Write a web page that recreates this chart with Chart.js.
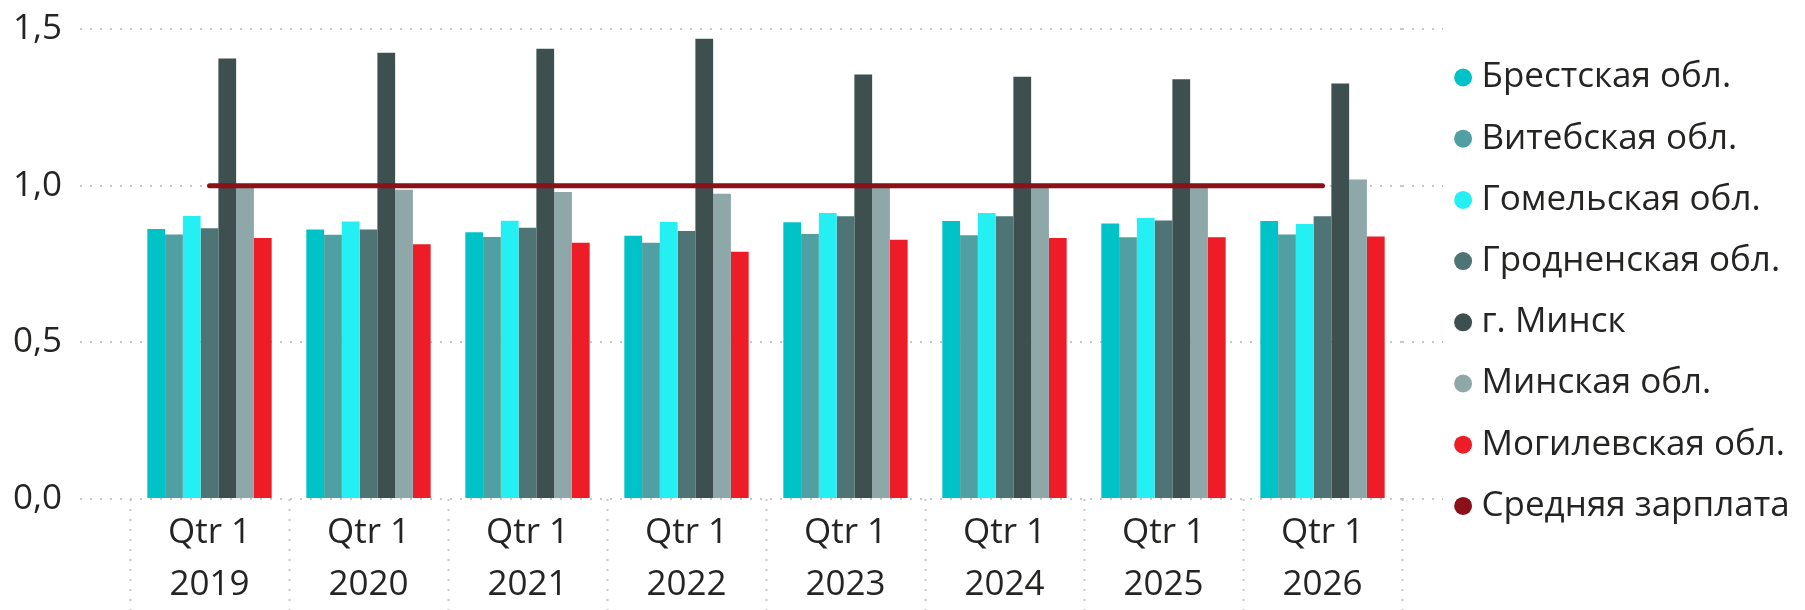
<!DOCTYPE html>
<html>
<head>
<meta charset="utf-8">
<script src="https://cdn.jsdelivr.net/npm/chart.js@4/dist/chart.umd.min.js"></script>
<style>
  html, body { margin: 0; padding: 0; background: #fff; }
  #wrap { width: 1805px; height: 610px; position: relative; }
</style>
</head>
<body>
<div id="wrap"><canvas id="chart"></canvas></div>
<script>
// categories
const quarters = ['Qtr 1', 'Qtr 1', 'Qtr 1', 'Qtr 1', 'Qtr 1', 'Qtr 1', 'Qtr 1', 'Qtr 1'];
const years = ['2019', '2020', '2021', '2022', '2023', '2024', '2025', '2026'];

// series (ratio to average salary)
const brest    = [0.862, 0.860, 0.851, 0.840, 0.883, 0.887, 0.879, 0.887];
const vitebsk  = [0.844, 0.843, 0.836, 0.818, 0.846, 0.842, 0.835, 0.844];
const gomel    = [0.903, 0.886, 0.888, 0.884, 0.913, 0.913, 0.897, 0.878];
const grodno   = [0.864, 0.860, 0.866, 0.855, 0.902, 0.902, 0.889, 0.902];
const minsk    = [1.406, 1.424, 1.437, 1.469, 1.355, 1.348, 1.340, 1.326];
const minskReg = [0.993, 0.987, 0.980, 0.974, 0.996, 0.997, 1.003, 1.020];
const mogilev  = [0.833, 0.813, 0.818, 0.789, 0.827, 0.833, 0.835, 0.838];
const avgSalary = [1, 1, 1, 1, 1, 1, 1, 1];

const seriesNames = ['Брестская обл.', 'Витебская обл.', 'Гомельская обл.', 'Гродненская обл.',
    'г. Минск', 'Минская обл.', 'Могилевская обл.', 'Средняя зарплата'];

// y axis tick labels
const yTickLabels = ['0,0', '0,5', '1,0', '1,5'];

const FONT = "'Segoe UI', 'Open Sans', sans-serif";
const TEXT = '#252423';
const GRID = '#c8c8c8';
const DOTS = [2, 8];

// legend sizing
const LEG_FS = 35, LEG_PAD = 26.2, LEG_BOX = 1.8, LEG_GAP = 34;
const PLOT_RIGHT = 1402;

const measure = document.createElement('canvas').getContext('2d');
measure.font = LEG_FS + 'px ' + FONT;
const maxTextW = Math.max(...seriesNames.map(n => measure.measureText(n).width));
const legendWidth = LEG_PAD + LEG_BOX + LEG_FS / 2 + maxTextW + 10;
const padRight = 1805 - PLOT_RIGHT - legendWidth;

const labels = years.map((y, i) => [quarters[i], y]);

function bar(i, data, color) {
    return {
        type: 'bar',
        label: seriesNames[i],
        data: data,
        backgroundColor: color,
        borderWidth: 0,
        order: 1
    };
}

// grid dots continue right of the plot, legend moved off the plot edge
const gridExtras = {
    id: 'gridExtras',
    afterLayout(chart) {
        chart.legend.left += LEG_GAP;
        chart.legend.right += LEG_GAP;
    },
    beforeDatasetsDraw(chart) {
        const { ctx, chartArea, scales } = chart;
        ctx.save();
        ctx.strokeStyle = GRID;
        ctx.lineWidth = 2;
        ctx.setLineDash(DOTS);
        scales.y.ticks.forEach(t => {
            const y = Math.round(scales.y.getPixelForValue(t.value));
            ctx.beginPath();
            ctx.moveTo(chartArea.right, y);
            ctx.lineTo(chartArea.right + 41, y);
            ctx.stroke();
        });
        ctx.restore();
    }
};

const ctx = document.getElementById('chart').getContext('2d');
new Chart(ctx, {
    data: {
        labels: labels,
        datasets: [
            bar(0, brest, '#00C3C7'),
            bar(1, vitebsk, '#509FA3'),
            bar(2, gomel, '#24F0F4'),
            bar(3, grodno, '#4E7475'),
            bar(4, minsk, '#3E4F4F'),
            bar(5, minskReg, '#8EA8A9'),
            bar(6, mogilev, '#ED1C26'),
            {
                type: 'line',
                label: seriesNames[7],
                data: avgSalary,
                borderColor: '#8C1018',
                backgroundColor: '#8C1018',
                borderWidth: 5,
                borderCapStyle: 'round',
                pointRadius: 0,
                tension: 0,
                order: 0
            }
        ]
    },
    plugins: [gridExtras],
    options: {
        responsive: true,
        maintainAspectRatio: false,
        animation: false,
        layout: { padding: { top: 29, right: padRight, left: 0, bottom: 0 } },
        datasets: {
            bar: { categoryPercentage: 0.782, barPercentage: 1.0 }
        },
        scales: {
            x: {
                offset: true,
                afterFit: (s) => { s.height = 111; },
                grid: {
                    offset: true,
                    drawOnChartArea: false,
                    drawTicks: true,
                    tickLength: 111,
                    tickColor: GRID,
                    tickWidth: 2,
                    tickBorderDash: DOTS
                },
                border: { display: false },
                ticks: {
                    color: TEXT,
                    font: { family: FONT, size: 35, lineHeight: 1.477 },
                    padding: -103,
                    maxRotation: 0,
                    autoSkip: false
                }
            },
            y: {
                min: 0,
                max: 1.5,
                afterFit: (s) => { s.width = 130; s.paddingTop = 0; s.paddingBottom = 0; },
                grid: {
                    color: GRID,
                    lineWidth: 2,
                    drawTicks: true,
                    tickLength: 50,
                    tickColor: GRID,
                    tickWidth: 2,
                    tickBorderDash: DOTS
                },
                border: { display: false, dash: DOTS },
                ticks: {
                    stepSize: 0.5,
                    padding: 18,
                    color: TEXT,
                    font: { family: FONT, size: 35 },
                    callback: (v, i) => yTickLabels[i]
                }
            }
        },
        plugins: {
            tooltip: { enabled: false },
            legend: {
                position: 'right',
                align: 'start',
                title: { display: true, text: ' ', font: { size: 4 }, padding: 0 },
                labels: {
                    usePointStyle: true,
                    pointStyle: 'circle',
                    boxWidth: LEG_BOX,
                    boxHeight: 12.7,
                    padding: LEG_PAD,
                    color: TEXT,
                    font: { family: FONT, size: LEG_FS },
                    sort: (a, b) => a.datasetIndex - b.datasetIndex,
                    generateLabels: (chart) => Chart.defaults.plugins.legend.labels.generateLabels(chart)
                        .map(l => ({ ...l, lineWidth: 0, pointStyle: 'circle' }))
                }
            }
        }
    }
});
</script>
</body>
</html>
